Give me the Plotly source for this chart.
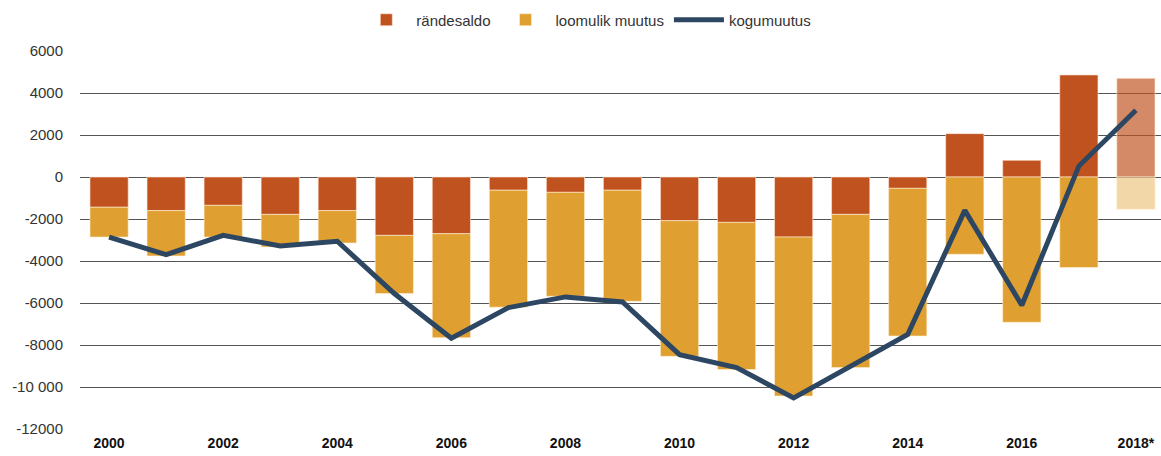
import plotly.graph_objects as go

years = ["2000", "2001", "2002", "2003", "2004", "2005", "2006", "2007", "2008",
         "2009", "2010", "2011", "2012", "2013", "2014", "2015", "2016", "2017", "2018*"]
randesaldo = [-1440, -1600, -1350, -1780, -1600, -2780, -2700, -630, -730,
              -630, -2080, -2160, -2860, -1780, -540, 2065, 795, 4860, 4700]
loomulik = [-1420, -2160, -1510, -1550, -1540, -2770, -4950, -5570, -4950,
            -5290, -6460, -7010, -7570, -7295, -7030, -3680, -6920, -4310, -1540]
kogumuutus = [-2860, -3700, -2780, -3280, -3060, -5550, -7680, -6220, -5710,
              -5950, -8460, -9075, -10520, -9000, -7500, -1590, -6110, 520, 3180]
tick_labels = ["2000", "2002", "2004", "2006", "2008", "2010", "2012", "2014", "2016", "2018*"]
y_ticks = [-12000, -10000, -8000, -6000, -4000, -2000, 0, 2000, 4000, 6000]
y_tick_text = ["-12000", "-10 000", "-8000", "-6000", "-4000", "-2000", "0", "2000", "4000", "6000"]

RED = "#C0521F"
RED_LIGHT = "rgba(192,82,31,0.68)"
ORANGE = "#DF9F31"
ORANGE_LIGHT = "rgba(223,159,49,0.42)"
LINE = "#2D4763"

n = len(years)
red_colors = [RED] * (n - 1) + [RED_LIGHT]
orange_colors = [ORANGE] * (n - 1) + [ORANGE_LIGHT]

fig = go.Figure()
fig.add_trace(go.Bar(
    x=years, y=randesaldo, name="rändesaldo",
    marker=dict(color=red_colors, line=dict(color="rgba(255,235,220,0.6)", width=1)),
))
fig.add_trace(go.Bar(
    x=years, y=loomulik, name="loomulik muutus",
    marker=dict(color=orange_colors, line=dict(color="rgba(255,240,210,0.6)", width=1)),
))
fig.add_trace(go.Scatter(
    x=years, y=kogumuutus, name="kogumuutus", mode="lines",
    line=dict(color=LINE, width=5),
))

fig.update_layout(
    width=1161, height=456,
    barmode="relative", bargap=0.33,
    plot_bgcolor="white", paper_bgcolor="white",
    margin=dict(l=80, r=0, t=51, b=27, autoexpand=False),
    font=dict(family="Liberation Sans, Arial, sans-serif", size=15, color="#333333"),
    legend=dict(orientation="h", x=0.505, xanchor="center", xref="container",
                y=1 - 20 / 456, yanchor="middle", yref="container",
                font=dict(size=15, color="#333333"), itemwidth=50, traceorder="normal"),
    xaxis=dict(
        type="category", categoryorder="array", categoryarray=years,
        range=[-0.51, 18.44],
        tickmode="array", tickvals=tick_labels, ticktext=["<b>%s</b>" % t for t in tick_labels],
        tickfont=dict(size=14, color="#111111"), showgrid=False, showline=False,
        ticks="", ticklabelstandoff=4,
    ),
    yaxis=dict(
        range=[-12000, 6000], tickmode="array", tickvals=y_ticks, ticktext=y_tick_text,
        showgrid=True, gridcolor="#555555", gridwidth=1, zeroline=True,
        zerolinecolor="#555555", zerolinewidth=1, showline=False,
        tickfont=dict(size=15, color="#333333"), ticklabelstandoff=16,
    ),
)

fig.write_html("out.html", config={"displayModeBar": False},
               post_script="document.body.style.margin='0';")
